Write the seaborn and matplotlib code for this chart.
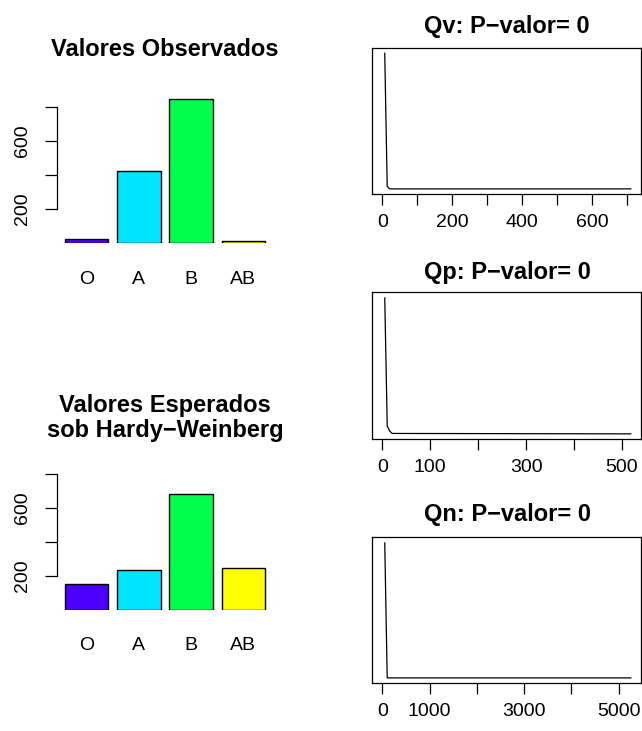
import numpy as np
import pandas as pd
import matplotlib
matplotlib.use("Agg")
import matplotlib.pyplot as plt
import seaborn as sns

# ---------------- data ----------------
categories = ["O", "A", "B", "AB"]
observed = [25, 424, 845, 13]
expected = [149, 233, 678, 245]
bar_colors = ["#4C00FF", "#00E5FF", "#00FF4D", "#FFFF00"]  # topo.colors(4)

bar_yticks = [200, 400, 600, 800]
bar_yticklabels = ["200", "", "600", ""]

qv_x = [7.1, 14.2, 21.4, 712]
qv_y = [1.0, 0.017, 0.0, 0.0]
qv_ticks = [0, 100, 200, 300, 400, 500, 600, 700]
qv_labels = ["0", "", "200", "", "400", "", "600", ""]

qp_x = [5.2, 10.4, 15.6, 20.8, 519]
qp_y = [1.0, 0.057, 0.02, 0.003, 0.0]
qp_ticks = [0, 100, 200, 300, 400, 500]
qp_labels = ["0", "100", "", "300", "", "500"]

qn_x = [52.6, 105, 5264]
qn_y = [1.0, 0.0, 0.0]
qn_ticks = [0, 1000, 2000, 3000, 4000, 5000]
qn_labels = ["0", "1000", "", "3000", "", "5000"]

titles_right = ["Qv: P\u2212valor= 0", "Qp: P\u2212valor= 0", "Qn: P\u2212valor= 0"]
title_obs = "Valores Observados"
title_exp = "Valores Esperados\nsob Hardy\u2212Weinberg"

# ---------------- style ----------------
sns.set_theme(style="white")
plt.rcParams["font.family"] = ["Liberation Sans", "DejaVu Sans"]
plt.rcParams["axes.unicode_minus"] = True
plt.rcParams["text.color"] = "black"
plt.rcParams["axes.labelcolor"] = "black"
plt.rcParams["xtick.color"] = "black"
plt.rcParams["ytick.color"] = "black"

W, H = 642, 731
fig = plt.figure(figsize=(W / 100, H / 100), dpi=100)
fig.patch.set_facecolor("white")


def px_axes(left, top, right, bottom):
    return fig.add_axes([left / W, 1 - bottom / H, (right - left) / W, (bottom - top) / H])


FS = 14
TFS = 17


def bar_panel(ax, values):
    df = pd.DataFrame({"cat": categories, "val": values})
    sns.barplot(data=df, x="cat", y="val", hue="cat", order=categories,
                hue_order=categories, palette=bar_colors, width=0.833,
                edgecolor="black", linewidth=1.0, legend=False, ax=ax,
                saturation=1)
    ax.set_xlim(-0.57, 3.57)
    ax.set_ylim(0, 900)
    ax.set_xlabel("")
    ax.set_ylabel("")
    for s in ["top", "right", "bottom"]:
        ax.spines[s].set_visible(False)
    ax.spines["left"].set_bounds(200, 800)
    ax.spines["left"].set_color("black")
    ax.spines["left"].set_linewidth(0.9)
    ax.set_yticks(bar_yticks)
    ax.set_yticklabels(bar_yticklabels, rotation=90, va="center", fontsize=FS)
    ax.tick_params(axis="y", left=True, length=8.5, width=0.9, color="black",
                   labelcolor="black", pad=10.5)
    ax.tick_params(axis="x", bottom=False, length=0, pad=20, labelsize=FS,
                   labelcolor="black")
    ax.patch.set_alpha(0)


ax1 = px_axes(57, 90, 273, 243)
bar_panel(ax1, observed)
ax2 = px_axes(57, 456.7, 273, 609.7)
bar_panel(ax2, expected)

fig.text(165 / W, 1 - 50 / H, title_obs, ha="center", va="center",
         fontsize=TFS, fontweight="bold", color="black")
fig.text(165 / W, 1 - 418.3 / H, title_exp, ha="center", va="center",
         fontsize=TFS, fontweight="bold", linespacing=1.13, color="black")


def line_panel(ax, x, y, ticks, labels, title, title_y):
    sns.lineplot(x=x, y=y, ax=ax, color="black", linewidth=0.9)
    xmax = max(x)
    ax.set_xlim(-0.04 * xmax, 1.04 * xmax)
    ax.set_ylim(-0.04, 1.04)
    ax.set_yticks([])
    ax.set_xticks(ticks)
    ax.set_xticklabels(labels, fontsize=FS)
    ax.tick_params(axis="x", bottom=True, length=8, width=0.9, color="black",
                   labelcolor="black", pad=6)
    for s in ax.spines.values():
        s.set_visible(True)
        s.set_color("black")
        s.set_linewidth(0.9)
    ax.set_xlabel("")
    ax.set_ylabel("")
    fig.text(507 / W, 1 - title_y / H, title, ha="center", va="center",
             fontsize=TFS, fontweight="bold", color="black")


ax3 = px_axes(372.3, 47.7, 641, 194.3)
line_panel(ax3, qv_x, qv_y, qv_ticks, qv_labels, titles_right[0], 26)
ax4 = px_axes(372.3, 292.3, 641, 439.3)
line_panel(ax4, qp_x, qp_y, qp_ticks, qp_labels, titles_right[1], 272.3)
ax5 = px_axes(372.3, 537.3, 641, 683.3)
line_panel(ax5, qn_x, qn_y, qn_ticks, qn_labels, titles_right[2], 514.3)

fig.savefig("out.png", dpi=100, facecolor="white")
